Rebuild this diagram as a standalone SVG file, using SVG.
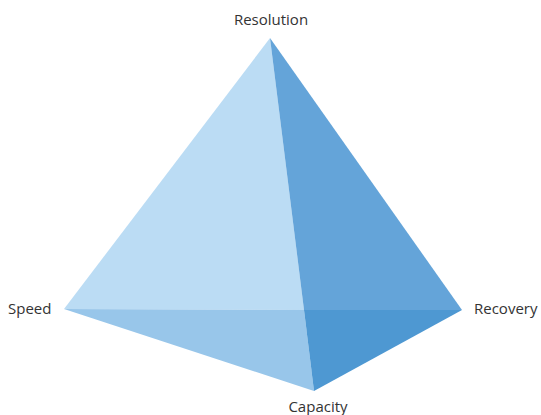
<svg xmlns="http://www.w3.org/2000/svg" width="541" height="415" viewBox="0 0 541 415">
<style>
text{font-family:"Open Sans","Noto Sans","Liberation Sans",sans-serif;font-size:15px;fill:#333}
</style>
<rect width="541" height="415" fill="#fff"/>
<g id="pyramid">
<polygon points="270,38 64,309 304,310" fill="#BBDCF4"/>
<polygon points="270,38 304,310 462,310" fill="#64A4D9"/>
<polygon points="64,309 304,310 314,391" fill="#98C6EA"/>
<polygon points="304,310 462,310 314,391" fill="#4E98D2"/>
</g>
<g id="resolution"><text x="271" y="25" text-anchor="middle">Resolution</text></g>
<g id="speed"><text x="8" y="314">Speed</text></g>
<g id="recovery"><text x="474" y="314">Recovery</text></g>
<g id="capacity"><text x="318" y="412" text-anchor="middle">Capacity</text></g>
</svg>
